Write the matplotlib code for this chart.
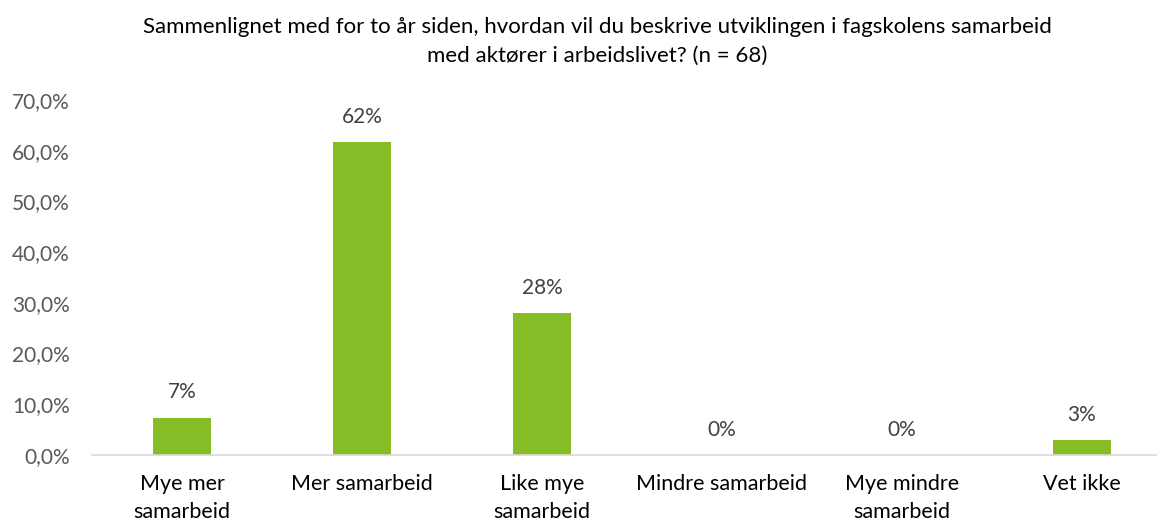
import matplotlib
matplotlib.use("Agg")
import matplotlib.pyplot as plt
from matplotlib.ticker import FuncFormatter

categories = ["Mye mer\nsamarbeid", "Mer samarbeid", "Like mye\nsamarbeid",
              "Mindre samarbeid", "Mye mindre\nsamarbeid", "Vet ikke"]
shares = [7.35, 61.76, 27.94, 0.0, 0.0, 2.94]
yticks = [0, 10, 20, 30, 40, 50, 60, 70]
title = ("Sammenlignet med for to år siden, hvordan vil du beskrive utviklingen i fagskolens samarbeid\n"
         "med aktører i arbeidslivet? (n = 68)")

plt.rcParams["font.family"] = ["Lato", "DejaVu Sans"]

fig = plt.figure(figsize=(11.57, 5.22), dpi=100)
ax = fig.add_axes([0.0795, 0.1284, 0.9334, 0.680])

x = list(range(len(categories)))
bars = ax.bar(x, shares, width=0.32, color="#86BC25", zorder=2)

for xi, v in zip(x, shares):
    ax.annotate(f"{round(v):.0f}%", (xi, v), xytext=(0, 11), textcoords="offset points",
                ha="center", va="bottom", fontsize=15, color="#404040")

ax.set_xlim(-0.5, len(categories) - 0.5)
ax.set_ylim(0, 70)
ax.set_yticks(yticks)
ax.yaxis.set_major_formatter(FuncFormatter(lambda v, _: f"{v:.1f}%".replace(".", ",")))
ax.set_xticks(x)
ax.set_xticklabels(categories, fontsize=15.5, color="#000000", linespacing=1.45)
ax.tick_params(axis="y", labelsize=15, labelcolor="#595959", length=0, pad=16)
ax.tick_params(axis="x", length=0, pad=14)
for lab in ax.get_yticklabels():
    lab.set_horizontalalignment("right")

for side in ["top", "right", "left"]:
    ax.spines[side].set_visible(False)
ax.spines["bottom"].set_color("#D9D9D9")
ax.spines["bottom"].set_linewidth(1.2)

fig.text(0.516, 0.968, title, ha="center", va="top", fontsize=16, color="#000000",
         linespacing=1.55)

fig.savefig("out.png", dpi=100)
